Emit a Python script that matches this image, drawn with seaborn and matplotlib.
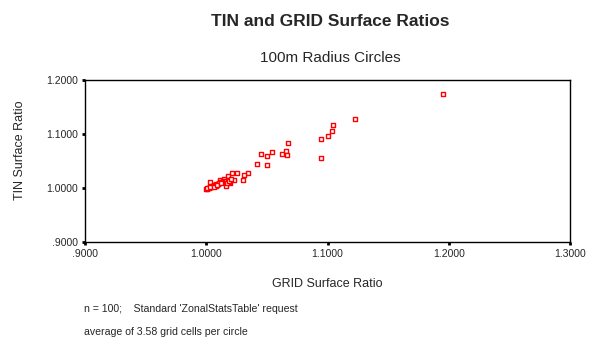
import matplotlib
matplotlib.use("Agg")
import matplotlib.pyplot as plt
import seaborn as sns
import pandas as pd
from matplotlib.ticker import FuncFormatter

grid_ratio = [1.1953, 1.1226, 1.1044, 1.1036, 1.1002, 1.0945, 1.0945, 1.0672, 1.0655,
              1.0622, 1.0664, 1.0540, 1.0498, 1.0449, 1.0416, 1.0498, 1.0209, 1.0250,
              1.0341, 1.0308, 1.0300, 1.0226, 1.0176, 1.0193, 1.0160, 1.0027, 1.0149,
              1.0110, 1.0138, 1.0165, 1.0124, 1.0083, 1.0180, 1.0190, 1.0170, 1.0060,
              1.0045, 1.0070, 1.0095, 1.0030, 1.0015, 1.0005, 1.0000, 1.0020, 1.0040,
              1.0055, 1.0080, 1.0100, 1.0105, 1.0010, 1.0035, 1.0065, 1.0090, 1.0185,
              1.0200, 1.0120]
tin_ratio = [1.1735, 1.1272, 1.1161, 1.1050, 1.0957, 1.0902, 1.0550, 1.0828, 1.0680,
             1.0624, 1.0606, 1.0661, 1.0587, 1.0624, 1.0439, 1.0420, 1.0272, 1.0272,
             1.0272, 1.0235, 1.0143, 1.0143, 1.0217, 1.0087, 1.0031, 1.0106, 1.0161,
             1.0143, 1.0124, 1.0124, 1.0106, 1.0074, 1.0150, 1.0110, 1.0090, 1.0050,
             1.0030, 1.0060, 1.0080, 1.0010, 0.9995, 0.9990, 0.9985, 1.0000, 1.0020,
             1.0040, 1.0045, 1.0070, 1.0100, 1.0005, 1.0015, 1.0025, 1.0055, 1.0130,
             1.0175, 1.0090]

x_ticks = [0.9, 1.0, 1.1, 1.2, 1.3]
y_ticks = [0.9, 1.0, 1.1, 1.2]

df = pd.DataFrame({"GRID Surface Ratio": grid_ratio, "TIN Surface Ratio": tin_ratio})

sns.set_style("white")
plt.rcParams["font.family"] = ["Liberation Sans", "DejaVu Sans"]

fig = plt.figure(figsize=(6.05, 3.46), dpi=100)
ax = fig.add_axes([85 / 605, 1 - 242 / 346, 485 / 605, 162 / 346])

sns.scatterplot(data=df, x="GRID Surface Ratio", y="TIN Surface Ratio", ax=ax,
                marker="s", s=8, facecolor="white", edgecolor="#ff0000",
                linewidth=1.0, zorder=3)

ax.set_xlim(0.9, 1.3)
ax.set_ylim(0.9, 1.2)
ax.set_xticks(x_ticks)
ax.set_yticks(y_ticks)


def fmt(v, pos):
    s = f"{v:.4f}"
    if s.startswith("0"):
        s = s[1:]
    return s


ax.xaxis.set_major_formatter(FuncFormatter(fmt))
ax.yaxis.set_major_formatter(FuncFormatter(fmt))
ax.tick_params(axis="both", direction="out", length=2, width=2, color="black",
               labelsize=7.5, pad=3, bottom=True, left=True)
for sp in ax.spines.values():
    sp.set_visible(True)
    sp.set_color("black")
    sp.set_linewidth(1.0)

ax.set_xlabel("GRID Surface Ratio", fontsize=9, labelpad=14)
ax.set_ylabel("TIN Surface Ratio", fontsize=9)
ax.yaxis.set_label_coords(-(85 - 26) / 485, (242 - 150) / 162)

fig.text(330 / 605, 1 - 22 / 346, "TIN and GRID Surface Ratios", ha="center",
         va="center", fontsize=12.5, fontweight="bold")
fig.text(330 / 605, 1 - 58 / 346, "100m Radius Circles", ha="center",
         va="center", fontsize=11)
fig.text(84 / 605, 1 - 309 / 346, "n = 100;    Standard 'ZonalStatsTable' request",
         ha="left", va="center", fontsize=7.6)
fig.text(84 / 605, 1 - 332 / 346, "average of 3.58 grid cells per circle",
         ha="left", va="center", fontsize=7.6)

fig.savefig("out.png", dpi=100, facecolor="white")
